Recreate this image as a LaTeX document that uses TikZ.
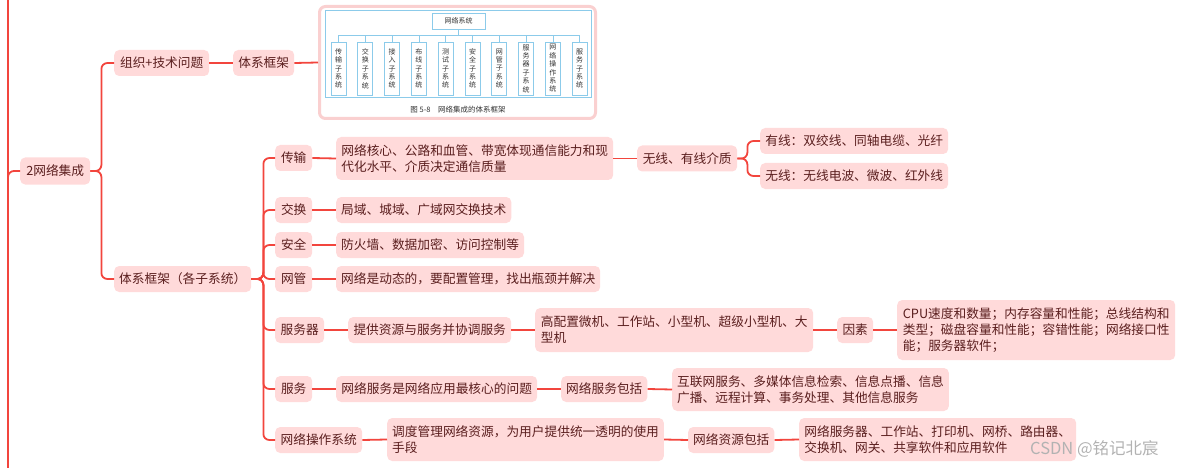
\documentclass[tikz,border=0pt]{standalone}
\usepackage{fontspec}
\setmainfont{Noto Sans CJK SC}
\definecolor{nfill}{HTML}{FFDADA}
\definecolor{ntext}{HTML}{5A1E1E}
\definecolor{lred}{HTML}{F2453D}
\definecolor{fblue}{HTML}{8CCBEA}
\definecolor{fpink}{HTML}{FAD0D0}
\definecolor{ftext}{HTML}{333333}
\begin{document}
\begin{tikzpicture}[x=1pt,y=-1pt,
  mn/.style={fill=nfill, text=ntext, rounded corners=5pt, anchor=west, inner xsep=5pt, inner ysep=0pt,
    minimum height=26pt, font=\fontsize{12.7}{16}\selectfont, align=left},
  lk/.style={draw=lred, line width=1.8pt, rounded corners=6pt},
  fbox/.style={draw=fblue, line width=0.8pt, text=ftext, inner sep=0pt, minimum width=15pt, minimum height=53pt,
    font=\fontsize{7}{8.4}\selectfont, align=center},
  flink/.style={draw=fblue, line width=0.8pt}]
\useasboundingbox (0,0) rectangle (1181,468);

% left trunk
\coordinate (ltop) at (8,0);
\coordinate (lbot) at (8,468);
\coordinate (lbr) at (8,190);
\draw[lk] (ltop) -- (lbot);

\node[mn, minimum width=70pt, minimum height=27pt] (root) at (20,171) {2网络集成};
\draw[lk] (lbr) |- (root.west);

\node[mn, minimum width=95pt] (org) at (114,63) {组织+技术问题};
\node[mn, minimum width=61pt] (fw) at (233,63) {体系框架};

% picture frame
\node[draw=fpink, line width=3pt, rounded corners=6pt, fill=white, minimum width=276pt, minimum height=112pt, inner sep=0pt] (img) at (457.5,62.5) {};
\node[draw=fblue, line width=0.8pt, minimum width=266pt, minimum height=87pt, inner sep=0pt] (fig) at (458,53.5) {};
\node[draw=fblue, line width=0.8pt, text=ftext, minimum width=53pt, minimum height=16pt, inner sep=0pt, font=\fontsize{7}{8}\selectfont] (top) at (458.5,21) {网络系统};
\coordinate (hb) at (458.5,35);
\node[fbox] (s1) at (338.5,68.5) {传\\输\\子\\系\\统};
\node[fbox] (s2) at (365.3,68.5) {交\\换\\子\\系\\统};
\node[fbox] (s3) at (392.1,68.5) {接\\入\\子\\系\\统};
\node[fbox] (s4) at (418.9,68.5) {布\\线\\子\\系\\统};
\node[fbox] (s5) at (445.7,68.5) {测\\试\\子\\系\\统};
\node[fbox] (s6) at (472.5,68.5) {安\\全\\子\\系\\统};
\node[fbox] (s7) at (499.3,68.5) {网\\管\\子\\系\\统};
\node[fbox] (s8) at (526.1,68.5) {服\\务\\器\\子\\系\\统};
\node[fbox] (s9) at (552.9,68.5) {网\\络\\操\\作\\系\\统};
\node[fbox] (s10) at (579.7,68.5) {服\\务\\子\\系\\统};
\draw[flink] (top.south) -- (hb);
\draw[flink] (s1.north |- hb) -- (s10.north |- hb);
\foreach \i in {1,...,10} {\draw[flink] (s\i.north) -- (s\i.north |- hb);}
\node[text=ftext, font=\fontsize{7.5}{8}\selectfont, inner sep=0pt] (cap) at (458,110) {图 5-8\quad 网络集成的体系框架};

\draw[lk] (root.east) -- ++(11,0) |- (org.west);
\draw[lk] (org.east) -- (fw.west);
\draw[lk] (fw.east) -- (img.west);

% subsystems
\node[mn, minimum width=137pt] (sub) at (114,279) {体系框架（各子系统）};
\draw[lk] (root.east) -- ++(11,0) |- (sub.west);

\node[mn, minimum width=37pt] (c1) at (275,158) {传输};
\node[mn, minimum width=37pt] (c2) at (275,210) {交换};
\node[mn, minimum width=37pt] (c3) at (275,245) {安全};
\node[mn, minimum width=37pt] (c4) at (275,279) {网管};
\node[mn, minimum width=49pt] (c5) at (275,330) {服务器};
\node[mn, minimum width=37pt] (c6) at (275,389) {服务};
\node[mn, minimum width=87pt] (c7) at (275,440) {网络操作系统};
\foreach \c in {c1,c2,c3,c4,c5,c6,c7} {\draw[lk] (sub.east) -- ++(12,0) |- (\c.west);}

% transmission
\node[mn, minimum width=277pt, minimum height=43pt] (d1) at (336,158.5) {网络核心、公路和血管、带宽体现通信能力和现\\代化水平、介质决定通信质量};
\node[mn, minimum width=100pt] (e1) at (637,158.5) {无线、有线介质};
\node[mn, minimum width=188pt] (f1) at (760,141) {有线：双绞线、同轴电缆、光纤};
\node[mn, minimum width=188pt] (f2) at (760,176) {无线：无线电波、微波、红外线};
\draw[lk] (c1.east) -- (d1.west);
\draw[lk] (d1.east) -- (e1.west);
\draw[lk] (e1.east) -- ++(10,0) |- (f1.west);
\draw[lk] (e1.east) -- ++(10,0) |- (f2.west);

\node[mn, minimum width=174pt] (d2) at (336,210) {局域、城域、广域网交换技术};
\node[mn, minimum width=187pt] (d3) at (336,245) {防火墙、数据加密、访问控制等};
\node[mn, minimum width=263pt] (d4) at (336,279) {网络是动态的，要配置管理，找出瓶颈并解决};
\draw[lk] (c2.east) -- (d2.west);
\draw[lk] (c3.east) -- (d3.west);
\draw[lk] (c4.east) -- (d4.west);

% server
\node[mn, minimum width=163pt] (d5) at (348,330) {提供资源与服务并协调服务};
\node[mn, minimum width=278pt, minimum height=44pt] (e5) at (535,330) {高配置微机、工作站、小型机、超级小型机、大\\型机};
\node[mn, minimum width=36pt] (g5) at (837,330) {因素};
\node[mn, minimum width=278pt, minimum height=60pt] (h5) at (897,330) {CPU速度和数量；内存容量和性能；总线结构和\\类型；磁盘容量和性能；容错性能；网络接口性\\能；服务器软件；};
\draw[lk] (c5.east) -- (d5.west);
\draw[lk] (d5.east) -- (e5.west);
\draw[lk] (e5.east) -- (g5.west);
\draw[lk] (g5.east) -- (h5.west);

% service
\node[mn, minimum width=201pt] (d6) at (336,389) {网络服务是网络应用最核心的问题};
\node[mn, minimum width=86pt] (e6) at (561,389) {网络服务包括};
\node[mn, minimum width=276pt, minimum height=43pt] (g6) at (672,389.5) {互联网服务、多媒体信息检索、信息点播、信息\\广播、远程计算、事务处理、其他信息服务};
\draw[lk] (c6.east) -- (d6.west);
\draw[lk] (d6.east) -- (e6.west);
\draw[lk] (e6.east) -- (g6.west);

% NOS
\node[mn, minimum width=276pt, minimum height=43pt] (d7) at (387,439.5) {调度管理网络资源，为用户提供统一透明的使用\\手段};
\node[mn, minimum width=86pt] (e7) at (688,440) {网络资源包括};
\node[mn, minimum width=277pt, minimum height=43pt] (g7) at (799,439.5) {网络服务器、工作站、打印机、网桥、路由器、\\交换机、网关、共享软件和应用软件};
\draw[lk] (c7.east) -- (d7.west);
\draw[lk] (d7.east) -- (e7.west);
\draw[lk] (e7.east) -- (g7.west);

\node[text=gray!60, font=\fontsize{16.5}{19}\selectfont, anchor=west, inner sep=0pt] (wm) at (1030,449) {CSDN @铭记北宸};
\end{tikzpicture}
\end{document}
